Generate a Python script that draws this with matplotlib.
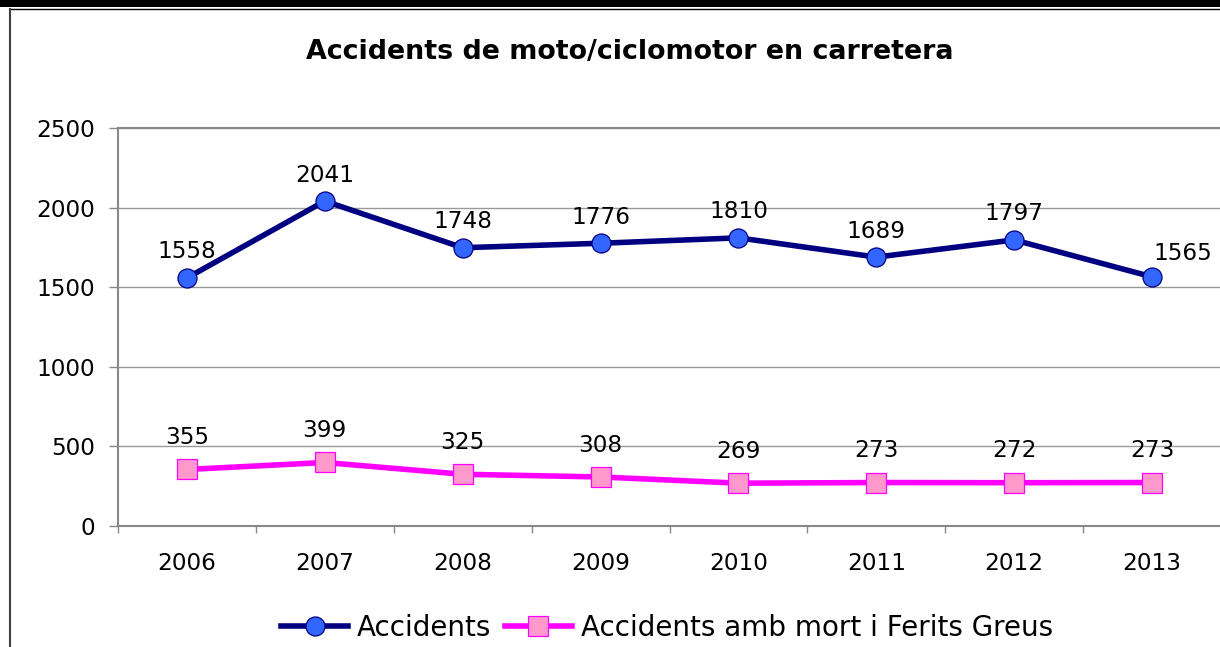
import matplotlib
matplotlib.use("Agg")
import matplotlib.pyplot as plt
from matplotlib.lines import Line2D
from matplotlib.patches import Rectangle

years = ["2006", "2007", "2008", "2009", "2010", "2011", "2012", "2013"]
accidents = [1558, 2041, 1748, 1776, 1810, 1689, 1797, 1565]
greus = [355, 399, 325, 308, 269, 273, 272, 273]
yticks = [0, 500, 1000, 1500, 2000, 2500]
title = "Accidents de moto/ciclomotor en carretera"
series_names = ["Accidents", "Accidents amb mort i Ferits Greus"]

W, H = 1220, 647
fig = plt.figure(figsize=(W / 100, H / 100), dpi=100)
fig.patch.set_facecolor("white")

# outer frame decorations
fig.add_artist(Rectangle((0, 1 - 7 / H), 1, 7 / H, transform=fig.transFigure,
                         color="black", lw=0))
fig.add_artist(Line2D([10 / W, 1], [1 - 8.5 / H] * 2, transform=fig.transFigure,
                      color="black", lw=1))
fig.add_artist(Line2D([10 / W] * 2, [0, 1 - 8.5 / H], transform=fig.transFigure,
                      color="#404040", lw=1.5))

ax = fig.add_axes([118 / W, 1 - 526 / H, (1221 - 118) / W, (526 - 128) / H])
x = list(range(len(years)))

l1, = ax.plot(x, accidents, color="#000080", lw=4.0, marker="o", markersize=13.7,
              markerfacecolor="#3366FF", markeredgecolor="#000080",
              markeredgewidth=0.9, clip_on=False, zorder=3)
l2, = ax.plot(x, greus, color="#FF00FF", lw=4.0, marker="s", markersize=14.4,
              markerfacecolor="#FF99CC", markeredgecolor="#FF00FF",
              markeredgewidth=0.9, clip_on=False, zorder=3)

for i, v in enumerate(accidents):
    if i == len(accidents) - 1:
        off = (22, 17)
    else:
        off = (0, 18.7)
    ax.annotate(str(v), (i, v), xytext=off, textcoords="offset points",
                ha="center", va="center", fontsize=16.7, color="black")
for i, v in enumerate(greus):
    ax.annotate(str(v), (i, v), xytext=(0, 23), textcoords="offset points",
                ha="center", va="center", fontsize=16.7, color="black")

ax.set_xlim(-0.5, len(years) - 0.5)
ax.set_ylim(0, 2500)
ax.set_yticks(yticks)
ax.set_yticklabels([str(t) for t in yticks])
ax.set_xticks(x)
ax.set_xticklabels(years)
ax.set_xticks([i - 0.5 for i in range(len(years) + 1)], minor=True)

ax.yaxis.grid(True, color="#999999", lw=1)
ax.set_axisbelow(True)
for s in ["left", "bottom", "top"]:
    ax.spines[s].set_color("#888888")
    ax.spines[s].set_linewidth(1.5)
ax.spines["right"].set_visible(False)

ax.tick_params(axis="y", length=6.5, width=1, color="#888888", pad=10,
               labelsize=16.7, labelcolor="black")
ax.tick_params(axis="x", which="major", length=0, pad=18.7, labelsize=16.7,
               labelcolor="black")
ax.tick_params(axis="x", which="minor", length=5, width=1, color="#888888")

fig.text(630 / W, 1 - 52 / H, title, fontsize=19.4, fontweight="bold",
         ha="center", va="center", color="black")

fig.legend([l1, l2], series_names, loc="center",
           bbox_to_anchor=(667 / W, 1 - 628 / H), ncol=2, frameon=False,
           fontsize=20, handlelength=2.4, handletextpad=0.32,
           columnspacing=0.5, borderpad=0, borderaxespad=0)

fig.savefig("out.png", dpi=100, facecolor="white")
